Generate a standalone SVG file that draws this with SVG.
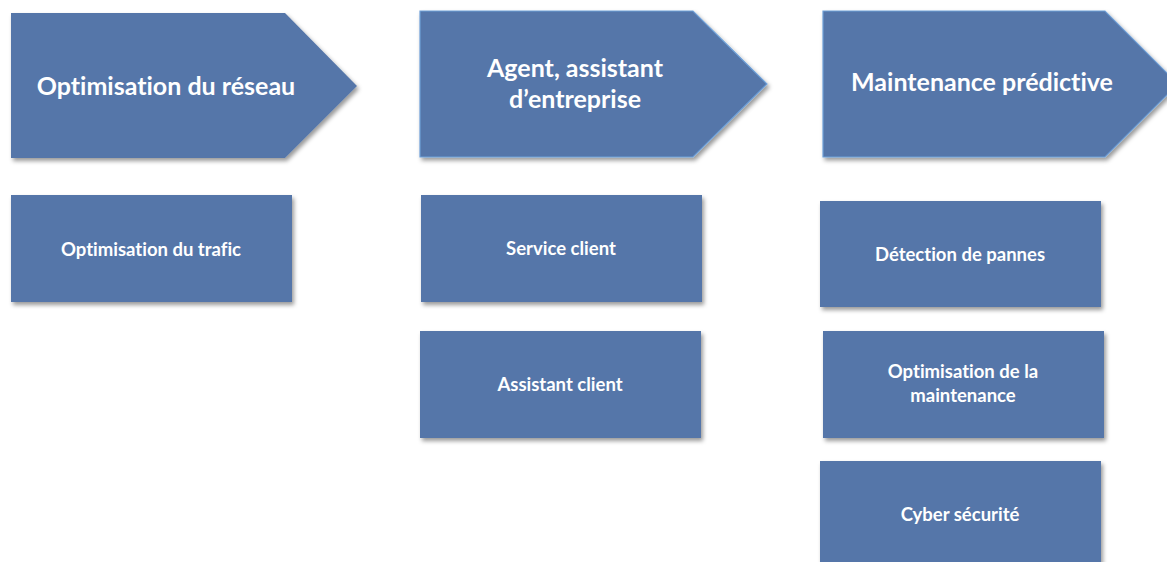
<svg xmlns="http://www.w3.org/2000/svg" width="1167" height="562" viewBox="0 0 1167 562">
<defs>
<filter id="sh" x="-10%" y="-10%" width="130%" height="140%">
<feDropShadow dx="2" dy="3" stdDeviation="2" flood-color="#000" flood-opacity="0.4"/>
</filter>
</defs>
<style>
.n{fill:#5476a9;filter:url(#sh)}
.o{stroke:#6fa0d8;stroke-width:1.2}
.h,.t{font-family:Lato,"Liberation Sans",sans-serif;font-weight:bold;fill:#fff;text-anchor:middle;font-variant-ligatures:none;font-feature-settings:"liga" 0,"dlig" 0}
.h{font-size:25px}
.t{font-size:18.5px}
</style>
<rect width="1167" height="562" fill="#fff"/>
<g id="head1"><polygon class="n" points="11,13 285,13 357,86 285,158 11,158"/><text class="h" x="166" y="95">Optimisation du réseau</text></g>
<g id="head2"><polygon class="n o" points="420,11 693,11 767,84 693,157 420,157"/><text class="h" x="575" y="77">Agent, assistant</text><text class="h" x="575" y="108">d’entreprise</text></g>
<g id="head3"><polygon class="n o" points="823,11 1105,11 1178,84 1105,157 823,157"/><text class="h" x="982" y="91">Maintenance prédictive</text></g>
<g id="b1"><rect class="n" x="11" y="195" width="281" height="107"/><text class="t" x="151" y="256">Optimisation du trafic</text></g>
<g id="b2"><rect class="n" x="421" y="195" width="281" height="107"/><text class="t" x="561" y="255">Service client</text></g>
<g id="b3"><rect class="n" x="420" y="331" width="281" height="107"/><text class="t" x="560" y="391">Assistant client</text></g>
<g id="b4"><rect class="n" x="820" y="201" width="281" height="106"/><text class="t" x="960" y="261">Détection de pannes</text></g>
<g id="b5"><rect class="n" x="823" y="331" width="281" height="107"/><text class="t" x="963" y="378">Optimisation de la</text><text class="t" x="963" y="402">maintenance</text></g>
<g id="b6"><rect class="n" x="820" y="461" width="281" height="110"/><text class="t" x="960" y="521">Cyber sécurité</text></g>
<g id="connectors"/>
</svg>
